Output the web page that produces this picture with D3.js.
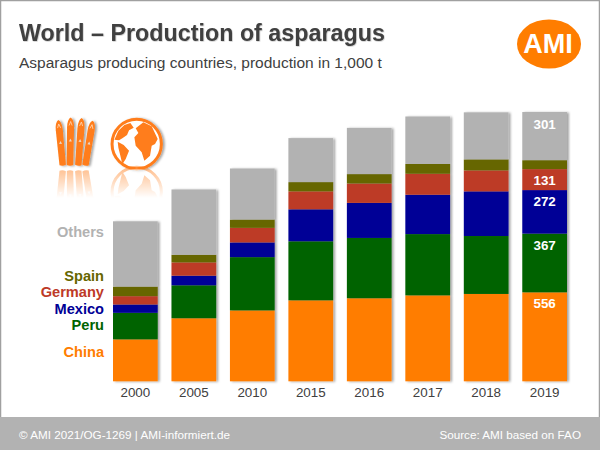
<!DOCTYPE html>
<html>
<head>
<meta charset="utf-8">
<script src="https://cdn.jsdelivr.net/npm/d3@7"></script>
<style>
html, body { margin: 0; padding: 0; background: #fff; }
svg { display: block; }
text { font-family: "Liberation Sans", Arial, sans-serif; }
</style>
</head>
<body>
<div id="viz"></div>
<script>
//Width and height
var w = 600;
var h = 450;

var years = ["2000", "2005", "2010", "2015", "2016", "2017", "2018", "2019"];
var countries = ["China", "Peru", "Mexico", "Germany", "Spain", "Others"];

var china   = [262, 394, 443, 506, 519, 537, 546, 556];
var peru    = [166, 206, 333, 369, 377, 383, 362, 367];
var mexico  = [52, 60, 92, 200, 219, 246, 279, 272];
var germany = [52, 83, 91, 112, 121, 131, 131, 131];
var spain   = [60, 48, 52, 58, 59, 62, 69, 56];
var others  = [408, 408, 319, 275, 289, 296, 294, 301];

var seriesValues = [china, peru, mexico, germany, spain, others];
var colors = ["#ff7d00", "#006400", "#000096", "#bd3a27", "#666600", "#b2b2b2"];

var rows = years.map(function(year, i) {
    var row = { year: year };
    countries.forEach(function(c, k) { row[c] = seriesValues[k][i]; });
    return row;
});

var x = d3.scaleBand().domain(years).range([113, 567]).paddingInner(0.235).paddingOuter(0);
var y = d3.scaleLinear().domain([0, 1700]).range([381.3, 109.3]);

var stack = d3.stack().keys(countries);

var svg = d3.select("#viz")
    .append("svg")
    .attr("width", w)
    .attr("height", h);

var defs = svg.append("defs");

var shadow = defs.append("filter").attr("id", "barShadow")
    .attr("x", "-10%").attr("y", "-10%").attr("width", "130%").attr("height", "120%");
shadow.append("feDropShadow")
    .attr("dx", 2).attr("dy", 0.5).attr("stdDeviation", 0.9)
    .attr("flood-color", "#000").attr("flood-opacity", 0.35);

var textShadow = defs.append("filter").attr("id", "textShadow")
    .attr("x", "-5%").attr("y", "-15%").attr("width", "110%").attr("height", "140%");
textShadow.append("feDropShadow")
    .attr("dx", 0.6).attr("dy", 0.6).attr("stdDeviation", 0.6)
    .attr("flood-color", "#000").attr("flood-opacity", 0.25);

var fade = defs.append("linearGradient").attr("id", "fade")
    .attr("gradientUnits", "userSpaceOnUse")
    .attr("x1", 0).attr("x2", 0).attr("y1", 168).attr("y2", 198);
fade.append("stop").attr("offset", 0).attr("stop-color", "#fff").attr("stop-opacity", 0.5);
fade.append("stop").attr("offset", 1).attr("stop-color", "#fff").attr("stop-opacity", 0);
defs.append("mask").attr("id", "fadeMask")
    .attr("maskUnits", "userSpaceOnUse")
    .attr("x", 40).attr("y", 165).attr("width", 140).attr("height", 40)
    .append("rect").attr("x", 40).attr("y", 165).attr("width", 140).attr("height", 40)
    .attr("fill", "url(#fade)");

// page frame
svg.append("rect").attr("x", 0.5).attr("y", 0.5).attr("width", w - 1).attr("height", h - 1)
    .attr("fill", "#fff").attr("stroke", "#a0a0a0").attr("stroke-width", 1.5);

// footer band
svg.append("rect").attr("x", 0).attr("y", 417).attr("width", w).attr("height", 33).attr("fill", "#b2b2b2");
svg.append("text").attr("x", 19).attr("y", 439).attr("fill", "#fff")
    .style("font-size", "11.7px").text("© AMI 2021/OG-1269 | AMI-informiert.de");
svg.append("text").attr("x", 581).attr("y", 439).attr("fill", "#fff").attr("text-anchor", "end")
    .style("font-size", "11.7px").text("Source: AMI based on FAO");

// titles
svg.append("text").attr("x", 19).attr("y", 41).attr("fill", "#404040")
    .attr("filter", "url(#textShadow)")
    .style("font-size", "23.3px").style("font-weight", "bold")
    .text("World – Production of asparagus");
svg.append("text").attr("x", 19).attr("y", 67.5).attr("fill", "#404040")
    .style("font-size", "15.5px")
    .text("Asparagus producing countries, production in 1,000 t");

// logo
svg.append("ellipse").attr("cx", 549).attr("cy", 44).attr("rx", 32).attr("ry", 24.5).attr("fill", "#ff7d00");
svg.append("text").attr("x", 548).attr("y", 53.3).attr("text-anchor", "middle").attr("fill", "#fff")
    .style("font-size", "27px").style("font-weight", "bold").text("AMI");

// icons
function drawIcons(g) {
    var spears = [[62.7, 165, 58.3, 120], [70, 165, 70.7, 117.5], [78.3, 165, 81.7, 118], [85.5, 165, 92.7, 120.7]];
    spears.forEach(function(s) {
        var len = Math.hypot(s[2] - s[0], s[3] - s[1]);
        var angle = Math.atan2(s[2] - s[0], s[1] - s[3]) * 180 / Math.PI;
        var sp = g.append("g").attr("transform", "translate(" + s[0] + "," + s[1] + ") rotate(" + angle + ")");
        sp.append("path")
            .attr("d", "M-3.2,0 L-3.5," + (-len + 10) + " Q-3.4," + (-len + 2) + " 0," + (-len) +
                " Q3.4," + (-len + 2) + " 3.5," + (-len + 10) + " L3.2,0 Q0,1.5 -3.2,0 Z")
            .attr("fill", "#ff7d1a");
        sp.append("path")
            .attr("d", "M-1.5," + (-len + 8) + " L0," + (-len + 4) + " L1.5," + (-len + 8))
            .attr("fill", "none").attr("stroke", "#ffd9b8").attr("stroke-width", 0.8);
        sp.append("path")
            .attr("d", "M-1.5," + (-len + 24) + " L0," + (-len + 21) + " L1.5," + (-len + 24) + " Z")
            .attr("fill", "#e8d8c8");
    });

    // drawn in zoomed pixels, scaled back down
    var globe = g.append("g").attr("transform", "translate(136.7,144) scale(0.3333) translate(-95,-95)");
    globe.append("circle").attr("cx", 95).attr("cy", 95).attr("r", 74)
        .attr("fill", "#fff").attr("stroke", "#ff7d1a").attr("stroke-width", 9);
    // Eurasia and Africa
    globe.append("path")
        .attr("d", "M88,75 L100,62 L92,48 L115,30 L140,42 L158,80 L150,95 L140,100 L135,130 L118,145 L110,120 L92,100 Z")
        .attr("fill", "#ff7d1a");
    // North America
    globe.append("path")
        .attr("d", "M28,82 L40,55 L58,38 L76,32 L86,46 L72,54 L66,68 L52,78 L42,84 Z")
        .attr("fill", "#ff7d1a");
    // South America
    globe.append("path")
        .attr("d", "M38,88 L56,98 L72,115 L62,140 L52,156 L46,130 L40,106 Z")
        .attr("fill", "#ff7d1a");
}

var iconGroup = svg.append("g").attr("filter", "url(#barShadow)");
drawIcons(iconGroup);

var reflection = svg.append("g").attr("mask", "url(#fadeMask)")
    .append("g").attr("transform", "translate(0,336) scale(1,-1)");
drawIcons(reflection);

// stacked bars
var layers = svg.append("g").attr("filter", "url(#barShadow)")
    .selectAll("g.layer")
    .data(stack(rows))
    .enter()
    .append("g")
    .attr("class", "layer")
    .attr("fill", function(d, i) { return colors[i]; });

layers.selectAll("rect")
    .data(function(d) { return d; })
    .enter()
    .append("rect")
    .attr("x", function(d) { return x(d.data.year); })
    .attr("y", function(d) { return y(d[1]); })
    .attr("width", x.bandwidth())
    .attr("height", function(d) { return y(d[0]) - y(d[1]); });

// value labels, last year only
var lastYear = years[years.length - 1];
var lastRow = stack(rows).map(function(s) { return { key: s.key, d: s[s.length - 1] }; });
svg.append("g").selectAll("text.value")
    .data(lastRow.filter(function(s) { return s.key !== "Spain"; }))
    .enter()
    .append("text")
    .attr("class", "value")
    .attr("x", x(lastYear) + x.bandwidth() / 2)
    .attr("y", function(s) { return y(s.d[1]) + (s.key === "Others" ? 16.5 : 16); })
    .attr("text-anchor", "middle")
    .attr("fill", "#fff")
    .style("font-size", "13.4px")
    .style("font-weight", "bold")
    .text(function(s) { return s.d.data[s.key]; });

// x axis
var axis = svg.append("g")
    .attr("transform", "translate(0,381.3)")
    .call(d3.axisBottom(x).tickSize(0).tickPadding(6));
axis.select(".domain").remove();
axis.selectAll("text")
    .attr("fill", "#404040")
    .style("font-family", "'Liberation Sans', Arial, sans-serif")
    .style("font-size", "13.4px");

// series names left of the first bar
var legendY = [357, 330, 314, 297, 281, 237];
svg.append("g").selectAll("text.name")
    .data(countries)
    .enter()
    .append("text")
    .attr("class", "name")
    .attr("x", 104)
    .attr("y", function(d, i) { return legendY[i]; })
    .attr("text-anchor", "end")
    .attr("fill", function(d, i) { return colors[i]; })
    .style("font-size", "14.6px")
    .style("font-weight", "bold")
    .text(function(d) { return d; });
</script>
</body>
</html>
